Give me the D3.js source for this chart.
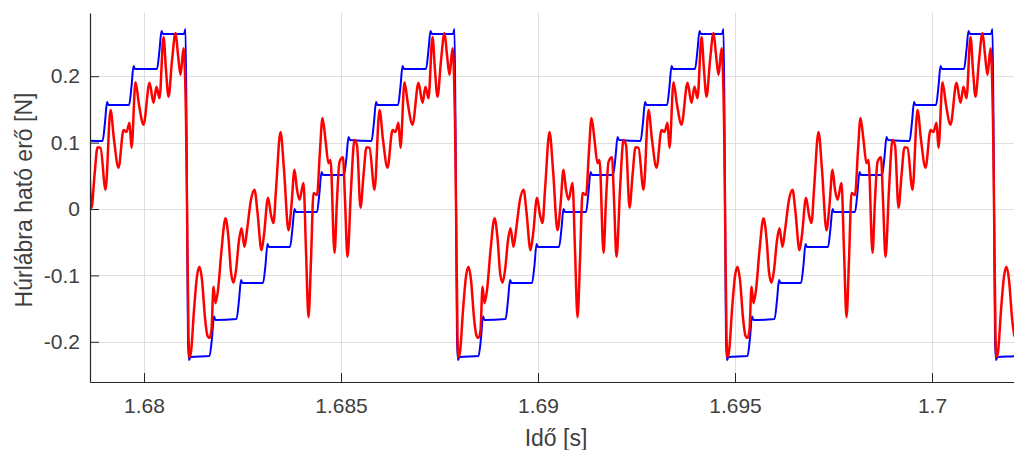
<!DOCTYPE html>
<html>
<head>
<meta charset="utf-8">
<script src="https://cdn.jsdelivr.net/npm/d3@7"></script>
<style>
  html, body { margin: 0; padding: 0; background: #fff; }
  svg { display: block; font-family: "Liberation Sans", Arial, sans-serif; }
</style>
</head>
<body>
<svg id="chart" width="1014" height="450"></svg>
<script>
// Start time of each period (the instant the force snaps from its top level to the bottom), in s
const periodStarts = [1.674264, 1.681091, 1.687919, 1.694746, 1.701574];

// Blue: stick-slip staircase within one period (offset from period start in ms, force in N)
const blueOffsetMs = [0, 0.025, 0.051, 0.089, 0.571, 0.634, 0.685, 0.723, 1.257, 1.320, 1.371, 1.409,
  1.929, 1.992, 2.043, 2.081, 2.615, 2.678, 2.728, 2.766, 3.300, 3.363, 3.414, 3.452,
  3.985, 4.048, 4.099, 4.137, 4.683, 4.746, 4.797, 4.835, 5.356, 5.419, 5.470, 5.508,
  6.066, 6.129, 6.180, 6.218, 6.751, 6.789, 6.815];
const blueForce = [0.0136, -0.1973, -0.2274, -0.2229, -0.2214, -0.1943, -0.1620, -0.1672, -0.1657, -0.1370, -0.1069, -0.1114,
  -0.1114, -0.0843, -0.0527, -0.0572, -0.0572, -0.0286, 0.0000, -0.0045, -0.0045, 0.0256, 0.0557, 0.0512,
  0.0512, 0.0783, 0.1084, 0.1039, 0.1024, 0.1310, 0.1611, 0.1566, 0.1566, 0.1852, 0.2153, 0.2108,
  0.2108, 0.2395, 0.2681, 0.2636, 0.2636, 0.2711, 0.1200];

// Red: measured bridge force within one period (offset in ms, force in N)
const redOffsetMs = [0.000, 0.038, 0.063, 0.102, 0.178, 0.254, 0.317, 0.381, 0.457, 0.520, 0.571, 0.622,
  0.673, 0.723, 0.787, 0.876, 0.977, 1.053, 1.117, 1.180, 1.244, 1.320, 1.383, 1.459,
  1.523, 1.624, 1.713, 1.789, 1.891, 1.954, 2.056, 2.132, 2.195, 2.259, 2.373, 2.462,
  2.576, 2.652, 2.728, 2.792, 2.855, 2.957, 3.020, 3.084, 3.147, 3.211, 3.300, 3.376,
  3.439, 3.515, 3.591, 3.642, 3.744, 3.807, 3.871, 3.959, 4.010, 4.074, 4.162, 4.251,
  4.315, 4.404, 4.480, 4.556, 4.632, 4.759, 4.886, 4.975, 5.089, 5.216, 5.292, 5.368,
  5.419, 5.520, 5.609, 5.723, 5.876, 5.977, 6.053, 6.129, 6.231, 6.294, 6.358, 6.447,
  6.536, 6.599, 6.662, 6.739, 6.777, 6.802];
const redForce = [0.006, -0.190, -0.223, -0.215, -0.152, -0.101, -0.087, -0.107, -0.164, -0.191, -0.194, -0.182,
  -0.117, -0.142, -0.122, -0.062, -0.014, -0.044, -0.095, -0.111, -0.092, -0.047, -0.029, -0.057,
  -0.032, 0.014, 0.029, -0.005, -0.062, -0.039, 0.017, -0.009, -0.021, 0.029, 0.116, 0.059,
  -0.032, 0.006, 0.059, 0.029, 0.014, 0.039, -0.062, -0.163, -0.077, 0.024, 0.021, 0.089,
  0.137, 0.104, 0.069, 0.074, -0.066, 0.014, 0.071, 0.078, 0.014, -0.072, 0.029, 0.104,
  0.096, 0.002, 0.051, 0.093, 0.092, 0.029, 0.149, 0.104, 0.062, 0.119, 0.116, 0.130,
  0.092, 0.191, 0.157, 0.127, 0.190, 0.160, 0.184, 0.167, 0.259, 0.209, 0.169, 0.224,
  0.265, 0.232, 0.202, 0.242, 0.202, 0.134];

// Axis ticks
const xTicks = [1.68, 1.685, 1.69, 1.695, 1.7];
const xTickLabels = ["1.68", "1.685", "1.69", "1.695", "1.7"];
const yTicks = [-0.2, -0.1, 0, 0.1, 0.2];
const yTickLabels = ["-0.2", "-0.1", "0", "0.1", "0.2"];
const xLabel = "Idő [s]";
const yLabel = "Húrlábra ható erő [N]";

// Layout
const margin = { left: 90, top: 13, right: 1022, bottom: 382 };
const axisColor = "#262626";
const gridColor = "#dedede";

const svg = d3.select("#chart");
svg.append("rect").attr("width", 1014).attr("height", 450).attr("fill", "#fff");

const x = d3.scaleLinear().domain([1.678629, 1.702284]).range([margin.left, margin.right]);
const y = d3.scaleLinear().domain([-0.2605, 0.2952]).range([margin.bottom, margin.top]);

// Grid
const grid = svg.append("g");
grid.selectAll("line.gx").data(xTicks).join("line")
  .attr("x1", d => Math.round(x(d)) + 0.5).attr("x2", d => Math.round(x(d)) + 0.5)
  .attr("y1", margin.top).attr("y2", margin.bottom)
  .attr("stroke", gridColor).attr("stroke-width", 1);
grid.selectAll("line.gy").data(yTicks).join("line")
  .attr("y1", d => Math.round(y(d)) + 0.5).attr("y2", d => Math.round(y(d)) + 0.5)
  .attr("x1", margin.left).attr("x2", margin.right)
  .attr("stroke", gridColor).attr("stroke-width", 1);

// Expand the single-period templates over every period start
function expand(offsets, values) {
  const pts = [];
  periodStarts.forEach(t0 => {
    offsets.forEach((o, i) => pts.push([t0 + o / 1000, values[i]]));
  });
  return pts;
}
const bluePts = expand(blueOffsetMs, blueForce);
const redPts = expand(redOffsetMs, redForce);

svg.append("clipPath").attr("id", "plotClip")
  .append("rect").attr("x", margin.left).attr("y", margin.top)
  .attr("width", margin.right - margin.left).attr("height", margin.bottom - margin.top);

const line = d3.line().x(d => x(d[0])).y(d => y(d[1])).curve(d3.curveMonotoneX);

const plot = svg.append("g").attr("clip-path", "url(#plotClip)");
plot.append("path").datum(bluePts)
  .attr("d", line).attr("fill", "none").attr("stroke", "#0000ff")
  .attr("stroke-width", 2).attr("stroke-linejoin", "round");
plot.append("path").datum(redPts)
  .attr("d", line).attr("fill", "none").attr("stroke", "#ff0000")
  .attr("stroke-width", 2.5).attr("stroke-linejoin", "round");

// Axes (ticks point inward)
const xAxis = d3.axisBottom(x).tickValues(xTicks)
  .tickFormat((d, i) => xTickLabels[i]).tickSizeInner(-9).tickSizeOuter(0).tickPadding(16);
const yAxis = d3.axisLeft(y).tickValues(yTicks)
  .tickFormat((d, i) => yTickLabels[i]).tickSizeInner(-9).tickSizeOuter(0).tickPadding(10);

const gx = svg.append("g").attr("transform", `translate(0,${margin.bottom})`).call(xAxis);
const gy = svg.append("g").attr("transform", `translate(${margin.left},0)`).call(yAxis);
[gx, gy].forEach(g => {
  g.select(".domain").attr("stroke", axisColor).attr("stroke-width", 1.2);
  g.selectAll(".tick line").attr("stroke", axisColor).attr("stroke-width", 1);
  g.selectAll(".tick text").attr("fill", "#404040")
    .style("font-family", "'Liberation Sans', Arial, sans-serif").style("font-size", "21px");
});

// Axis titles
svg.append("text").attr("x", (margin.left + margin.right) / 2).attr("y", 446)
  .attr("text-anchor", "middle").attr("fill", "#404040").style("font-size", "23px").text(xLabel);
svg.append("text").attr("transform", `translate(32,200) rotate(-90)`)
  .attr("text-anchor", "middle").attr("fill", "#404040").style("font-size", "23px").text(yLabel);
</script>
</body>
</html>
